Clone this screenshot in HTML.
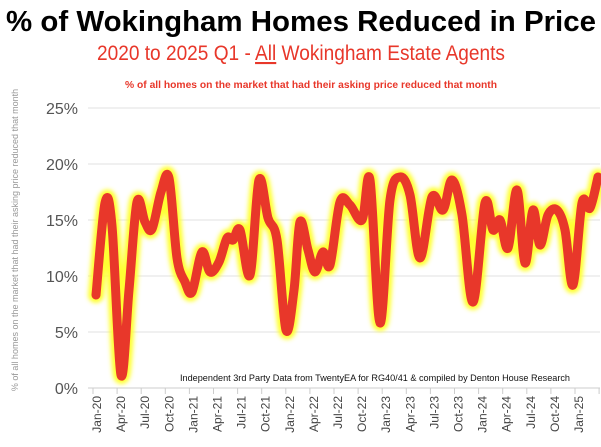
<!DOCTYPE html>
<html><head><meta charset="utf-8"><style>
body{margin:0;background:#fff;width:601px;height:442px;overflow:hidden;font-family:"Liberation Sans",sans-serif}
</style></head><body>
<svg width="601" height="442" viewBox="0 0 601 442" xmlns="http://www.w3.org/2000/svg">
<defs><filter id="g" x="-10%" y="-10%" width="120%" height="120%"><feGaussianBlur stdDeviation="2"/></filter></defs>
<text x="6" y="31" textLength="590" lengthAdjust="spacingAndGlyphs" font-size="29" font-weight="bold" fill="#000">% of Wokingham Homes Reduced in Price</text>
<text x="97" y="60" textLength="408" lengthAdjust="spacingAndGlyphs" font-size="21" fill="#e8372a">2020 to 2025 Q1 - <tspan text-decoration="underline">All</tspan> Wokingham Estate Agents</text>
<text x="125" y="88" textLength="372" lengthAdjust="spacingAndGlyphs" font-size="10" font-weight="bold" fill="#e8372a">% of all homes on the market that had their asking price reduced that month</text>
<text transform="translate(18,240) rotate(-90)" text-anchor="middle" font-size="9" fill="#999">% of all homes on the market that had their asking price reduced that month</text>
<g stroke="#e2e2e2" stroke-width="1">
<line x1="88" x2="600" y1="108" y2="108"/><line x1="88" x2="600" y1="164" y2="164"/><line x1="88" x2="600" y1="220" y2="220"/><line x1="88" x2="600" y1="276" y2="276"/><line x1="88" x2="600" y1="332" y2="332"/><line x1="88" x2="600" y1="388" y2="388" stroke="#ccc"/>
</g>
<g font-size="16" fill="#555" text-anchor="end">
<text x="78" y="114">25%</text><text x="78" y="170">20%</text><text x="78" y="226">15%</text><text x="78" y="282">10%</text><text x="78" y="338">5%</text><text x="78" y="394">0%</text>
</g>
<g stroke="#ccc" stroke-width="1" id="ticks"></g>
<g font-size="12" fill="#444" id="xl"></g>
<path id="glow" fill="none" stroke="#ffff30" stroke-width="16" stroke-linejoin="round" stroke-linecap="round" filter="url(#g)"/>
<path id="line" fill="none" stroke="#e8372a" stroke-width="9" stroke-linejoin="round" stroke-linecap="round"/>
<text x="180" y="381" textLength="390" lengthAdjust="spacingAndGlyphs" font-size="9.5" fill="#111">Independent 3rd Party Data from TwentyEA for RG40/41 &amp; compiled by Denton House Research</text>
</svg>
<script>
var P=[[96,295],[105,203],[112,226],[121,375],[129,290],[137,202],[145,222],[152,229],[161,192],[169,178],[177,258],[185,282],[192,292],[202,252],[210,272],[219,262],[227,238],[233,240],[240,230],[250,275],[259,180],[268,218],[277,240],[286,330],[294,290],[300,222],[308,250],[315,272],[323,252],[330,265],[340,202],[350,205],[362,220],[370,180],[380,323],[390,200],[400,177],[410,195],[420,258],[432,197],[443,210],[452,180],[462,215],[473,302],[485,203],[493,230],[500,220],[508,248],[517,190],[525,263],[533,210],[540,245],[548,215],[557,210],[565,230],[573,285],[582,203],[590,208],[598,177]];
var d="M"+P[0][0]+","+P[0][1];
for(var i=0;i<P.length-1;i++){var p0=P[Math.max(i-1,0)],p1=P[i],p2=P[i+1],p3=P[Math.min(i+2,P.length-1)];
var c1x=p1[0]+(p2[0]-p0[0])/6,c1y=p1[1]+(p2[1]-p0[1])/6,c2x=p2[0]-(p3[0]-p1[0])/6,c2y=p2[1]-(p3[1]-p1[1])/6;
d+=" C"+c1x+","+c1y+" "+c2x+","+c2y+" "+p2[0]+","+p2[1];}
document.getElementById("glow").setAttribute("d",d);document.getElementById("line").setAttribute("d",d);
var labs=["Jan-20","Apr-20","Jul-20","Oct-20","Jan-21","Apr-21","Jul-21","Oct-21","Jan-22","Apr-22","Jul-22","Oct-22","Jan-23","Apr-23","Jul-23","Oct-23","Jan-24","Apr-24","Jul-24","Oct-24","Jan-25"];
var ns="http://www.w3.org/2000/svg",t=document.getElementById("ticks"),xl=document.getElementById("xl");
for(var k=0;k<=21;k++){var x=93+k*24.1;var l=document.createElementNS(ns,"line");l.setAttribute("x1",x);l.setAttribute("x2",x);l.setAttribute("y1",388);l.setAttribute("y2",394);t.appendChild(l);}
labs.forEach(function(s,k){var x=97+k*24.1+4;var e=document.createElementNS(ns,"text");e.setAttribute("transform","translate("+x+",396) rotate(-90)");e.setAttribute("text-anchor","end");e.textContent=s;xl.appendChild(e);});
</script>
</body></html>
